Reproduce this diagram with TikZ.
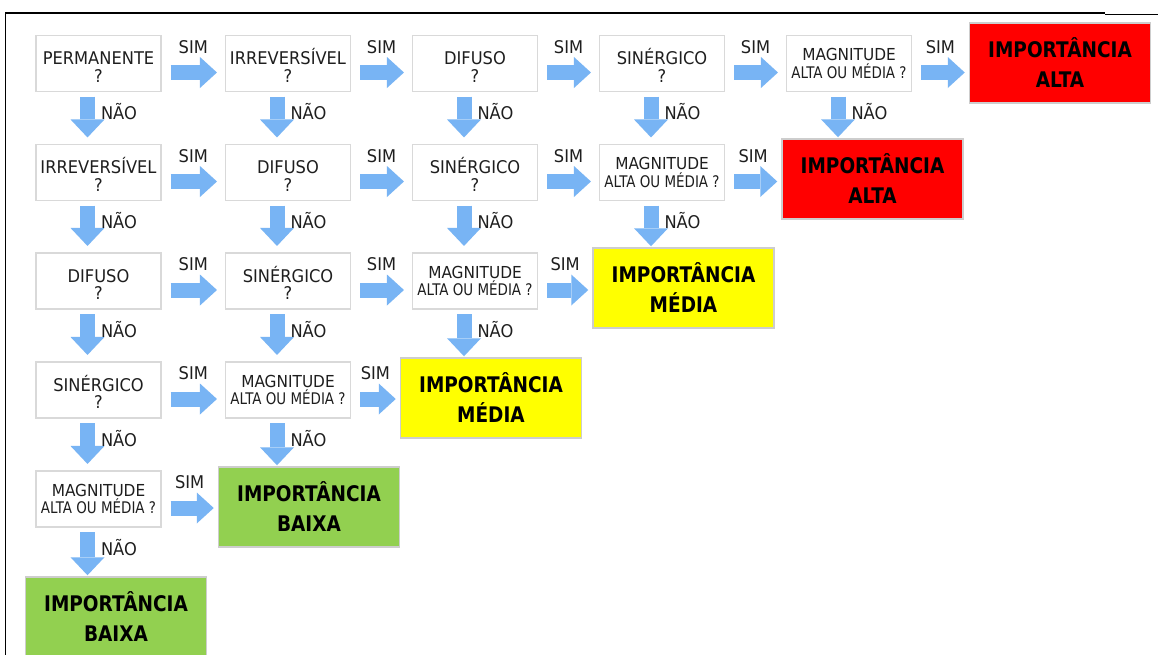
\documentclass[tikz,border=0pt]{standalone}
\usepackage{fontspec}
\setmainfont{DejaVu Sans}
\newfontfamily\qfont[FakeStretch=0.93]{DejaVu Sans}
\newfontfamily\mfont[FakeStretch=0.84]{DejaVu Sans}
\newfontfamily\rfont[FakeStretch=0.86]{DejaVu Sans}
\usetikzlibrary{arrows.meta,calc}
\definecolor{arrowblue}{HTML}{78B4F4}
\definecolor{qborder}{HTML}{D9D9D9}
\definecolor{qtext}{HTML}{1E1E1E}
\definecolor{rborder}{HTML}{CDCDCD}
\definecolor{resred}{HTML}{FF0000}
\definecolor{resyellow}{HTML}{FFFF00}
\definecolor{resgreen}{HTML}{92D050}
\newcommand\qs{\rule{0pt}{20pt}}
\newcommand\magtext{MAGNITUDE\\{\mfont\fontsize{16}{17.4}\selectfont ALTA OU MÉDIA ?}}
\begin{document}
\begin{tikzpicture}[x=1pt,y=-1pt,
  qbox/.style={draw=qborder, line width=1.1pt, fill=white, minimum width=125pt,
    minimum height=56pt, inner sep=0pt, align=center, text=qtext,
    font=\qfont\fontsize{17.5}{17.5}\selectfont},
  magbox/.style={qbox, font=\qfont\fontsize{16.5}{17.4}\selectfont},
  resbox/.style={draw=rborder, line width=1.5pt, minimum width=181pt,
    minimum height=80pt, inner sep=0pt, align=center, text=black,
    font=\rfont\bfseries\fontsize{21.5}{30}\selectfont},
  harrow/.style={draw=arrowblue, line width=15pt,
    -{Triangle[width=31pt,length=17pt,line width=0pt]},
    shorten <=9pt, shorten >=8pt},
  varrow/.style={draw=arrowblue, line width=15pt,
    -{Triangle[width=34pt,length=18pt,line width=0pt]},
    shorten <=4.5pt, shorten >=6.5pt},
  simlbl/.style={midway, anchor=base, yshift=19.5pt, inner sep=0pt,
    text=qtext, font=\qfont\fontsize{17.5}{17.5}\selectfont},
  naolbl/.style={at start, anchor=base west, xshift=6pt, yshift=-27.5pt,
    inner sep=0pt, text=qtext, font=\qfont\fontsize{17.5}{17.5}\selectfont}
]
\fill[white] (0,0) rectangle (1158,654);
\useasboundingbox (0,0) rectangle (1158,654);

% frame
\draw[line width=1.6pt] (5.5,660) -- (5.5,13) -- (1105,13);
\draw[line width=1.5pt] (1105,14.5) -- (1158,14.5);

% row 1
\node[qbox] (q11) at (98.5,63.5) {\qs PERMANENTE\\?};
\node[qbox] (q12) at (288,63.5) {\qs IRREVERSÍVEL\\?};
\node[qbox] (q13) at (475,63.5) {\qs DIFUSO\\?};
\node[qbox] (q14) at (662,63.5) {\qs SINÉRGICO\\?};
\node[magbox] (q15) at (849,63.5) {\magtext};
% row 2
\node[qbox] (q21) at (98.5,172.5) {\qs IRREVERSÍVEL\\?};
\node[qbox] (q22) at (288,172.5) {\qs DIFUSO\\?};
\node[qbox] (q23) at (475,172.5) {\qs SINÉRGICO\\?};
\node[magbox] (q24) at (662,172.5) {\magtext};
% row 3
\node[qbox] (q31) at (98.5,281) {\qs DIFUSO\\?};
\node[qbox] (q32) at (288,281) {\qs SINÉRGICO\\?};
\node[magbox] (q33) at (475,281) {\magtext};
% row 4
\node[qbox] (q41) at (98.5,390) {\qs SINÉRGICO\\?};
\node[magbox] (q42) at (288,390) {\magtext};
% row 5
\node[magbox] (q51) at (98.5,499) {\magtext};

% results
\node[resbox, fill=resred] (r1) at (1060,63) {IMPORTÂNCIA\\ALTA};
\node[resbox, fill=resred] (r2) at (872.5,179) {IMPORTÂNCIA\\ALTA};
\node[resbox, fill=resyellow] (r3) at (683.5,288) {IMPORTÂNCIA\\MÉDIA};
\node[resbox, fill=resyellow] (r4) at (491,398) {IMPORTÂNCIA\\MÉDIA};
\node[resbox, fill=resgreen] (r5) at (309,507) {IMPORTÂNCIA\\BAIXA};
\node[resbox, fill=resgreen] (r6) at (116,617) {IMPORTÂNCIA\\BAIXA};

% horizontal SIM arrows between questions
\foreach \a/\b in {q11/q12,q12/q13,q13/q14,q14/q15,
                   q21/q22,q22/q23,q23/q24,
                   q31/q32,q32/q33,
                   q41/q42}{
  \draw[harrow] ($(\a.east)+(0,9)$) -- ($(\b.west)+(0,9)$) node[simlbl]{SIM};
}
% horizontal SIM arrows to results
\foreach \a/\b in {q15/r1,q24/r2,q33/r3,q42/r4,q51/r5}{
  \draw[harrow, shorten >=4pt] ($(\a.east)+(0,9)$) -- ($(\a.east -| \b.west)+(0,9)$) node[simlbl]{SIM};
}
% vertical NÃO arrows between questions
\foreach \a/\b in {q11/q21,q12/q22,q13/q23,q14/q24,
                   q21/q31,q22/q32,q23/q33,
                   q31/q41,q32/q42,
                   q41/q51}{
  \draw[varrow] ($(\a.south)+(-11,0)$) -- ($(\a.south |- \b.north)+(-11,0)$) node[naolbl]{NÃO};
}
% vertical NÃO arrows to results
\foreach \a/\b in {q15/r2,q24/r3,q33/r4,q42/r5,q51/r6}{
  \draw[varrow, shorten >=1pt] ($(\a.south)+(-11,0)$) -- ($(\a.south |- \b.north)+(-11,0)$) node[naolbl]{NÃO};
}
\end{tikzpicture}
\end{document}
